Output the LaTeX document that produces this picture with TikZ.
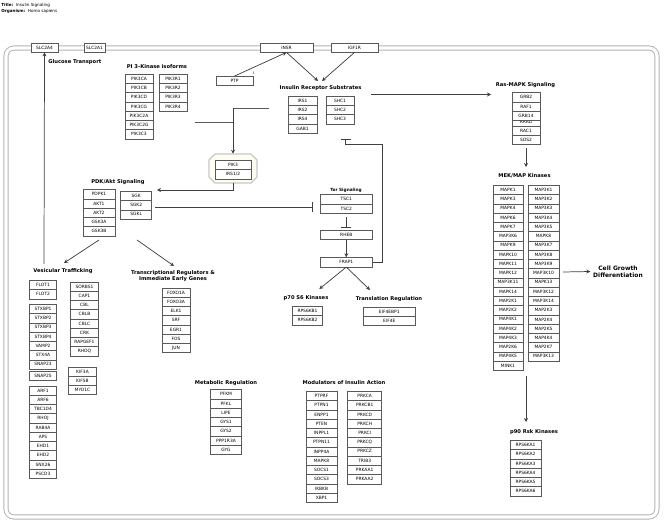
\documentclass[tikz,border=0pt]{standalone}
\usepackage{fontspec}
\setmainfont{DejaVu Sans}
\usepackage{tikz}
\usetikzlibrary{arrows.meta}

\newcommand{\genefont}{\fontsize{3.3}{3.8}\selectfont}
\newcommand{\grpfont}{\fontsize{3.9}{4.6}\selectfont\bfseries}
\newcommand{\titlefont}{\fontsize{3.1}{3.6}\selectfont}
% one column of gene boxes: name, centre x, top y, width, genes
\newcommand{\genestack}[5]{%
  \foreach \g [count=\i] in {#5}
    {\node[gene, minimum width=#4*0.75pt] (#1-\i) at (#2,{#3+(\i-1)*9.25}) {\g};}
}

\tikzset{
  gene/.style={draw=black!65, fill=white, line width=0.4pt, font=\genefont,
    inner sep=0pt, minimum height=6.94pt, anchor=north},
  grp/.style={font=\grpfont, inner sep=0pt, align=center},
  arr/.style={draw=black!75, line width=0.55pt, -{Stealth[length=3pt,width=3pt]}},
  stop/.style={draw=black!75, line width=0.55pt, -{Bar[width=7.5pt]}},
  link/.style={draw=black!65, line width=0.55pt}
}

\begin{document}
\begin{tikzpicture}[x=0.75pt, y=-0.75pt]
  \useasboundingbox (0,0) rectangle (666,527);

  % title block
  \node[anchor=west, font=\titlefont, inner sep=0pt] (title) at (1,5) {\textbf{Title:}\ \ Insulin Signaling};
  \node[anchor=west, font=\titlefont, inner sep=0pt] (organism) at (1,11) {\textbf{Organism:}\ \ Homo sapiens};

  % cell membrane
  \draw[black!30, line width=0.7pt, double=white, double distance=2.4pt, rounded corners=6]
    (6,48) rectangle (657,517);

  % membrane proteins
  \node[gene, anchor=center, minimum width=27*0.75pt] (slc2a4) at (44.5,47.5) {SLC2A4};
  \node[gene, anchor=center, minimum width=21*0.75pt] (slc2a1) at (94.5,47.5) {SLC2A1};
  \node[gene, anchor=center, minimum width=53*0.75pt] (insr) at (286.5,47.5) {INSR};
  \node[gene, anchor=center, minimum width=47*0.75pt] (igf1r) at (354.5,47.5) {IGF1R};
  \node[gene, anchor=center, minimum width=37*0.75pt] (ptp) at (234.5,81) {PTP};
  \node[font=\fontsize{2.4}{2.8}\selectfont, text=blue!60!black, inner sep=0pt] (ptpref) at (254,73.5) {1};

  % group headings
  \node[grp, anchor=west] (glut) at (48,62) {Glucose Transport};
  \node[grp] (pik3h) at (157,67) {PI 3-Kinase isoforms};
  \node[grp] (irsh) at (320.5,88) {Insulin Receptor Substrates};
  \node[grp] (rash) at (525.5,85) {Ras-MAPK Signaling};
  \node[grp] (mekh) at (524.5,176) {MEK/MAP Kinases};
  \node[grp] (pdkh) at (118,182) {PDK/Akt Signaling};
  \node[grp] (vesh) at (63,271) {Vesicular Trafficking};
  \node[grp] (tfh) at (173,276) {Transcriptional Regulators \&\\Immediate Early Genes};
  \node[grp, font=\fontsize{3.2}{3.8}\selectfont\bfseries] (torh) at (346,190) {Tor Signaling};
  \node[grp] (p70h) at (306,298) {p70 S6 Kinases};
  \node[grp] (trh) at (389,299) {Translation Regulation};
  \node[grp] (p90h) at (534,432) {p90 Rsk Kinases};
  \node[grp] (meth) at (226,383.3) {Metabolic Regulation};
  \node[grp] (modh) at (344,383) {Modulators of Insulin Action};
  \node[grp, font=\fontsize{4.5}{5.4}\selectfont\bfseries] (cg) at (618,271.5) {Cell Growth\\Differentiation};

  % PI3K / IRS1/2 complex
  \draw[draw=black!22, fill=black!3!yellow!5, line width=1pt]
    (215,154) -- (251,154) -- (257,160) -- (257,177) -- (251,183) -- (215,183) -- (209,177) -- (209,160) -- cycle;
  \node[inner sep=0pt, minimum width=48*0.75pt, minimum height=29*0.75pt] (pi3k) at (233,168.5) {};

  % gene columns
  \genestack{pika}{139}{74}{28}{PIK3CA,PIK3CB,PIK3CD,PIK3CG,PIK3C2A,PIK3C2G,PIK3C3}
  \genestack{pikr}{173}{74}{28}{PIK3R1,PIK3R2,PIK3R3,PIK3R4}
  \genestack{irs}{302.5}{96}{29}{IRS1,IRS2,IRS4,GAB1}
  \genestack{shc}{340}{96}{28}{SHC1,SHC2,SHC3}
  \genestack{ras}{526}{92.3}{28}{GRB2,RAF1}
  \node[gene, minimum width=28*0.75pt] (rrad) at (526,116.6) {RRAD};
  \node[gene, minimum width=28*0.75pt] (grb14) at (526,110.8) {GRB14};
  \genestack{rasb}{526}{125.8}{28}{RAC1,SOS2}
  \genestack{meka}{508}{185}{30}{MAPK1,MAPK3,MAPK4,MAPK6,MAPK7,MAP3K6,MAPK9,MAPK10,MAPK11,MAPK12,MAP3K11,MAPK14,MAP2K1,MAP2K2,MAP4K1,MAP4K2,MAP4K3,MAP2K6,MAP4K5,MINK1}
  \genestack{mekb}{543.5}{185}{31}{MAP3K1,MAP3K2,MAP3K3,MAP3K4,MAP3K5,MAPK8,MAP3K7,MAP3K8,MAP3K9,MAP3K10,MAPK13,MAP3K12,MAP3K14,MAP2K3,MAP2K4,MAP2K5,MAP4K4,MAP2K7,MAP3K13}
  \genestack{p90}{525.5}{440}{31}{RPS6KA1,RPS6KA2,RPS6KA3,RPS6KA4,RPS6KA5,RPS6KA6}
  \genestack{pdk}{99}{189.3}{32}{PDPK1,AKT1,AKT2,GSK3A,GSK3B}
  \genestack{sgk}{136.2}{191}{31}{SGK,SGK2,SGKL}
  \genestack{flot}{43}{280}{27.4}{FLOT1,FLOT2}
  \genestack{stx}{43}{304}{27.4}{STXBP1,STXBP2,STXBP3,STXBP4,VAMP2,STX4A,SNAP23}
  \genestack{snap}{43}{371}{27.4}{SNAP25}
  \genestack{arf}{43}{385.7}{27.4}{ARF1,ARF6,TBC1D4,RHOJ,RAB4A,APS,EHD1,EHD2,SNX26,PSCD3}
  \genestack{sorbs}{84.5}{281.7}{27.6}{SORBS1,CAP1,CBL,CBLB,CBLC,CRK,RAPGEF1,RHOQ}
  \genestack{kif}{82.5}{366.7}{28.4}{KIF3A,KIF5B,MYO1C}
  \genestack{tf}{176}{287.7}{27.7}{FOXO1A,FOXO3A,ELK1,SRF,EGR1,FOS,JUN}
  \genestack{tsc}{346.3}{194.3}{52.7}{TSC1,TSC2}
  \node[gene, minimum width=52.7*0.75pt] (rheb) at (346.3,230) {RHEB};
  \node[gene, minimum width=52.7*0.75pt] (frap) at (346.3,257.3) {FRAP1};
  \genestack{p70}{307.5}{306}{30.4}{RPS6KB1,RPS6KB2}
  \genestack{tr}{389.3}{306.7}{52}{EIF4EBP1,EIF4E}
  \genestack{met}{226}{389.3}{30.6}{PFKM,PFKL,LIPE,GYS1,GYS2,PPP1R3A,GYG}
  \genestack{moda}{321.5}{391}{31}{PTPRF,PTPN1,ENPP1,PTEN,INPPL1,PTPN11,INPP4A,MAPK8,SOCS1,SOCS3,IKBKB,XBP1}
  \genestack{modb}{364.7}{391}{34}{PRKCA,PRKCB1,PRKCD,PRKCH,PRKCI,PRKCQ,PRKCZ,TRIB3,PRKAA1,PRKAA2}
  \genestack{cpx}{233}{160}{36}{PIK3,IRS1/2}

  % free ends of connectors
  \coordinate (vt-out) at (44,264);
  \coordinate (irs-l) at (318,81);
  \coordinate (irs-r) at (322,81);
  \coordinate (irs-out) at (371,94.5);
  \coordinate (ras-in) at (491,94.5);
  \coordinate (ras-out) at (526,148);
  \coordinate (mek-in) at (526,167);
  \coordinate (mek-out) at (563,272);
  \coordinate (p90-out) at (526,376);
  \coordinate (p90-in) at (526,422);
  \coordinate (irs-link) at (269,108);
  \coordinate (pik-link) at (195,122);
  \coordinate (cpx-turn) at (233,108);
  \coordinate (sgk-in) at (157,190);
  \coordinate (akt-out) at (155,207.3);
  \coordinate (tsc-in) at (313,207.3);
  \coordinate (pdk-l) at (99,240);
  \coordinate (pdk-r) at (137,240);
  \coordinate (ves-in) at (64,263);
  \coordinate (tf-in) at (174,266);
  \coordinate (p70-in) at (319.3,289);
  \coordinate (tr-in) at (370,290);
  \coordinate (fb-up) at (345.7,139.3);

  % connectors
  \draw[arr] (vt-out) -- (slc2a4.south);
  \draw[arr] (ptp.north) -- (insr.south);
  \draw[arr] (insr.south) -- (irs-l);
  \draw[arr] (igf1r.south) -- (irs-r);
  \draw[arr] (irs-out) -- (ras-in);
  \draw[arr] (ras-out) -- (mek-in);
  \draw[arr] (mek-out) -- ([xshift=-2pt]cg.west);
  \draw[arr] (p90-out) -- (p90-in);
  \draw[link] (irs-link) -- (cpx-turn);
  \draw[link] (pik-link) -- (233,122);
  \draw[arr] (cpx-turn) -- (pi3k.north);
  \draw[arr] (pi3k.south) |- (sgk-in);
  \draw[stop] (akt-out) -- (tsc-in);
  \draw[stop] ([yshift=-3pt]tsc-2.south) -- ([yshift=2pt]rheb.north);
  \draw[arr] (rheb.south) -- (frap.north);
  \draw[stop] (frap.east) -| (382.5,144.3) -| (fb-up);
  \draw[arr] (frap.south) -- (p70-in);
  \draw[arr] (frap.south) -- (tr-in);
  \draw[arr] (pdk-l) -- (ves-in);
  \draw[arr] (pdk-r) -- (tf-in);
\end{tikzpicture}
\end{document}
